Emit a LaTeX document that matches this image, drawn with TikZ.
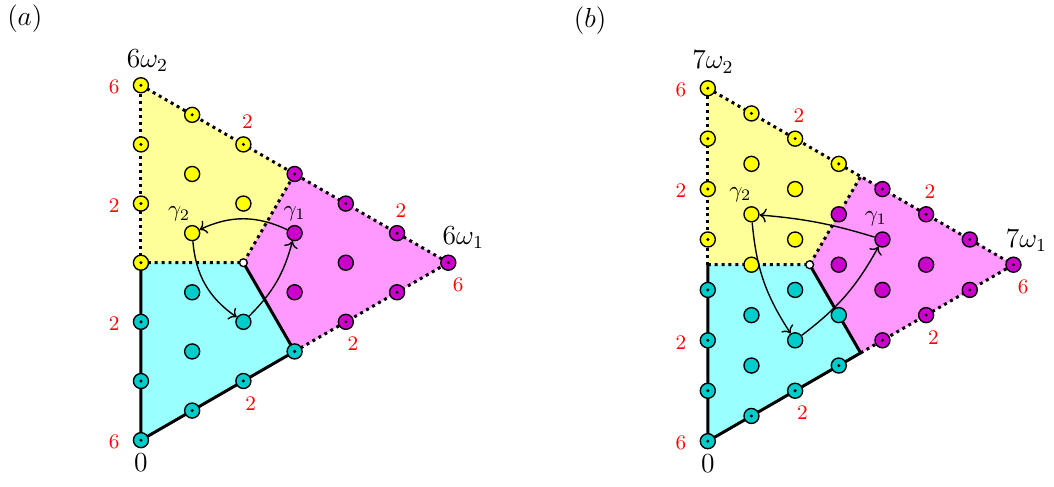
\documentclass[tikz,border=0pt]{standalone}
\usepackage{amsmath,amssymb}
\usepackage{tikz}
\usetikzlibrary{arrows.meta,positioning,calc}
\definecolor{fillY}{RGB}{255,255,153}
\definecolor{fillC}{RGB}{153,255,255}
\definecolor{fillM}{RGB}{255,153,255}
\definecolor{ptY}{RGB}{255,255,0}
\definecolor{ptC}{RGB}{0,204,204}
\definecolor{ptM}{RGB}{204,0,204}

\begin{document}
\begin{tikzpicture}[
    pt/.style={circle, draw, line width=0.6pt, minimum size=0.23cm, inner sep=0pt},
    ypt/.style={pt, fill=ptY},
    cpt/.style={pt, fill=ptC},
    mpt/.style={pt, fill=ptM},
    wpt/.style={circle, draw, line width=0.6pt, fill=white, minimum size=0.12cm, inner sep=0pt},
    bd/.style={path picture={\fill[black] (path picture bounding box.center) circle (0.026cm);}},
    thickb/.style={line width=1.3pt},
    dotb/.style={line width=1.3pt, dash pattern=on 1.3pt off 1.7pt},
    arr/.style={->, semithick},
    num/.style={text=red, font=\small},
    nl/.style={num, xshift=-0.41cm, yshift=-0.03cm},
    nb/.style={num, xshift=0.11cm, yshift=-0.34cm},
    nt/.style={num, xshift=0.06cm, yshift=0.35cm},
    nr/.style={num, xshift=0.15cm, yshift=-0.34cm},
    vx/.style={font=\large},
    gl/.style={font=\normalsize}
]
\useasboundingbox (0,0) rectangle (16.13,7.44);

\node[font=\large] (lab-a) at (0.38,7.16) {$(a)$};
\node[font=\large] (lab-b) at (9.03,7.12) {$(b)$};

% (a): six steps
\begin{scope}[shift={(2.157cm,0.704cm)}, x={(0.7839cm,0.4526cm)}, y={(0cm,0.9052cm)}]
\fill[fillY] (0,6) -- (0,3) -- (2,2) -- (3,3) -- cycle;
\fill[fillC] (0,0) -- (3,0) -- (2,2) -- (0,3) -- cycle;
\fill[fillM] (6,0) -- (3,3) -- (2,2) -- (3,0) -- cycle;
\draw[thickb] (0,3) -- (0,0) -- (3,0);
\draw[thickb] (2,2) -- (3,0);
\draw[dotb] (0,3) -- (0,6);
\draw[dotb] (0,6) -- (6,0);
\draw[dotb] (3,0) -- (6,0);
\draw[dotb] (0,3) -- (2,2) -- (3,3);

\node[cpt, bd] (a00) at (0,0) {};
\node[cpt, bd] (a10) at (1,0) {};
\node[cpt, bd] (a20) at (2,0) {};
\node[cpt, bd] (a30) at (3,0) {};
\node[mpt, bd] (a40) at (4,0) {};
\node[mpt, bd] (a50) at (5,0) {};
\node[mpt, bd] (a60) at (6,0) {};
\node[cpt, bd] (a01) at (0,1) {};
\node[cpt, bd] (a02) at (0,2) {};
\node[ypt, bd] (a03) at (0,3) {};
\node[ypt, bd] (a04) at (0,4) {};
\node[ypt, bd] (a05) at (0,5) {};
\node[ypt, bd] (a06) at (0,6) {};
\node[ypt, bd] (a15) at (1,5) {};
\node[ypt, bd] (a24) at (2,4) {};
\node[mpt, bd] (a33) at (3,3) {};
\node[mpt, bd] (a42) at (4,2) {};
\node[mpt, bd] (a51) at (5,1) {};
\node[cpt] (a11) at (1,1) {};
\node[cpt] (a12) at (1,2) {};
\node[ypt] (a13) at (1,3) {};
\node[ypt] (a14) at (1,4) {};
\node[cpt] (a21) at (2,1) {};
\node[wpt] (a22) at (2,2) {};
\node[ypt] (a23) at (2,3) {};
\node[mpt] (a31) at (3,1) {};
\node[mpt] (a32) at (3,2) {};
\node[mpt] (a41) at (4,1) {};

\draw[arr] (a32) to[bend right=25] (a13);
\draw[arr] (a13) to[bend right=25] (a21);
\draw[arr] (a21) to[bend right=15] (a32);
\node[gl, yshift=0.3cm] (a-g1) at (a32) {$\gamma_1$};
\node[gl, xshift=-0.2cm, yshift=0.29cm] (a-g2) at (a13) {$\gamma_2$};

\node[vx, xshift=0.1cm, yshift=0.38cm] (a-w2) at (a06) {$6\omega_2$};
\node[vx, xshift=0.23cm, yshift=0.38cm] (a-w1) at (a60) {$6\omega_1$};
\node[vx, yshift=-0.35cm] (a-o) at (a00) {$0$};

\node[nl] (a-n06) at (a06) {6};
\node[nl] (a-n04) at (a04) {2};
\node[nl] (a-n02) at (a02) {2};
\node[nl] (a-n00) at (a00) {6};
\node[nb] (a-n20) at (a20) {2};
\node[nb] (a-n40) at (a40) {2};
\node[nr] (a-n60) at (a60) {6};
\node[nt] (a-n24) at (a24) {2};
\node[nt] (a-n51) at (a51) {2};
\end{scope}

% (b): seven steps
\begin{scope}[shift={(10.832cm,0.6885cm)}, x={(0.6682cm,0.3858cm)}, y={(0cm,0.7716cm)}]
\fill[fillY] (0,7) -- (0,3.5) -- (2.333,2.333) -- (3.5,3.5) -- cycle;
\fill[fillC] (0,0) -- (3.5,0) -- (2.333,2.333) -- (0,3.5) -- cycle;
\fill[fillM] (7,0) -- (3.5,3.5) -- (2.333,2.333) -- (3.5,0) -- cycle;
\draw[thickb] (0,3.5) -- (0,0) -- (3.5,0);
\draw[thickb] (2.333,2.333) -- (3.5,0);
\draw[dotb] (0,3.5) -- (0,7);
\draw[dotb] (0,7) -- (7,0);
\draw[dotb] (3.5,0) -- (7,0);
\draw[dotb] (0,3.5) -- (2.333,2.333) -- (3.5,3.5);

\node[cpt, bd] (b00) at (0,0) {};
\node[cpt, bd] (b10) at (1,0) {};
\node[cpt, bd] (b20) at (2,0) {};
\node[cpt, bd] (b30) at (3,0) {};
\node[mpt, bd] (b40) at (4,0) {};
\node[mpt, bd] (b50) at (5,0) {};
\node[mpt, bd] (b60) at (6,0) {};
\node[mpt, bd] (b70) at (7,0) {};
\node[cpt, bd] (b01) at (0,1) {};
\node[cpt, bd] (b02) at (0,2) {};
\node[cpt, bd] (b03) at (0,3) {};
\node[ypt, bd] (b04) at (0,4) {};
\node[ypt, bd] (b05) at (0,5) {};
\node[ypt, bd] (b06) at (0,6) {};
\node[ypt, bd] (b07) at (0,7) {};
\node[ypt, bd] (b16) at (1,6) {};
\node[ypt, bd] (b25) at (2,5) {};
\node[ypt, bd] (b34) at (3,4) {};
\node[mpt, bd] (b43) at (4,3) {};
\node[mpt, bd] (b52) at (5,2) {};
\node[mpt, bd] (b61) at (6,1) {};
\node[cpt] (b11) at (1,1) {};
\node[cpt] (b12) at (1,2) {};
\node[ypt] (b13) at (1,3) {};
\node[ypt] (b14) at (1,4) {};
\node[ypt] (b15) at (1,5) {};
\node[cpt] (b21) at (2,1) {};
\node[cpt] (b22) at (2,2) {};
\node[ypt] (b23) at (2,3) {};
\node[ypt] (b24) at (2,4) {};
\node[cpt] (b31) at (3,1) {};
\node[mpt] (b32) at (3,2) {};
\node[mpt] (b33) at (3,3) {};
\node[mpt] (b41) at (4,1) {};
\node[mpt] (b42) at (4,2) {};
\node[mpt] (b51) at (5,1) {};
\node[wpt] (bc) at (2.333,2.333) {};

\draw[arr] (b42) to[bend right=6] (b14);
\draw[arr] (b14) to[bend right=14] (b21);
\draw[arr] (b21) to[bend right=12] (b42);
\node[gl, xshift=-0.1cm, yshift=0.32cm] (b-g1) at (b42) {$\gamma_1$};
\node[gl, xshift=-0.17cm, yshift=0.3cm] (b-g2) at (b14) {$\gamma_2$};

\node[vx, xshift=0.08cm, yshift=0.4cm] (b-w2) at (b07) {$7\omega_2$};
\node[vx, xshift=0.2cm, yshift=0.37cm] (b-w1) at (b70) {$7\omega_1$};
\node[vx, yshift=-0.35cm] (b-o) at (b00) {$0$};

\node[nl] (b-n07) at (b07) {6};
\node[nl] (b-n05) at (b05) {2};
\node[nl] (b-n02) at (b02) {2};
\node[nl] (b-n00) at (b00) {6};
\node[nb] (b-n20) at (b20) {2};
\node[nb] (b-n50) at (b50) {2};
\node[nr] (b-n70) at (b70) {6};
\node[nt] (b-n25) at (b25) {2};
\node[nt] (b-n52) at (b52) {2};
\end{scope}
\end{tikzpicture}
\end{document}
